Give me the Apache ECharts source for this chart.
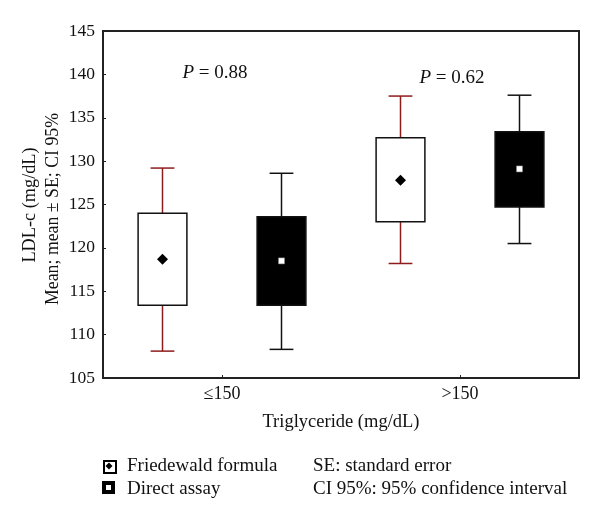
<!DOCTYPE html>
<html>
<head>
<meta charset="utf-8">
<script src="https://cdn.jsdelivr.net/npm/echarts@6/dist/echarts.min.js"></script>
<style>html,body{margin:0;padding:0;background:#fff;}#c{width:600px;height:522px;}</style>
</head>
<body>
<div id="c"></div>
<script>
const categories = ['≤150', '>150'];
// [CI95 low, mean - SE, mean, mean + SE, CI95 high]
const friedewald = [
  [108.1, 113.4, 118.7, 124.0, 129.2],
  [118.2, 123.0, 127.8, 132.7, 137.5]
];
const direct = [
  [108.3, 113.4, 118.5, 123.6, 128.6],
  [120.5, 124.7, 129.1, 133.4, 137.6]
];
const pValues = ['0.88', '0.62'];
const yTicks = { min: 105, max: 145, step: 5 };

const FONT = '"Liberation Serif", "DejaVu Serif", serif';
const WHISKER_RED = '#8e1c1c';

function makeRender(offset, filled, whiskerColor) {
  return function (params, api) {
    const xi = api.value(0);
    const band = api.size([1, 0])[0];
    const pLo = api.coord([xi, api.value(1)]);
    const pSeLo = api.coord([xi, api.value(2)]);
    const pMean = api.coord([xi, api.value(3)]);
    const pSeHi = api.coord([xi, api.value(4)]);
    const pHi = api.coord([xi, api.value(5)]);
    const cx = pLo[0] + offset * band;
    const bw = band * 0.205;
    const cw = band * 0.1;
    const lineStyle = { stroke: whiskerColor, lineWidth: 1.5 };
    const children = [
      { type: 'line', shape: { x1: cx, y1: pHi[1], x2: cx, y2: pSeHi[1] }, style: lineStyle },
      { type: 'line', shape: { x1: cx, y1: pSeLo[1], x2: cx, y2: pLo[1] }, style: lineStyle },
      { type: 'line', shape: { x1: cx - cw / 2, y1: pHi[1], x2: cx + cw / 2, y2: pHi[1] }, style: lineStyle },
      { type: 'line', shape: { x1: cx - cw / 2, y1: pLo[1], x2: cx + cw / 2, y2: pLo[1] }, style: lineStyle },
      { type: 'rect', shape: { x: cx - bw / 2, y: pSeHi[1], width: bw, height: pSeLo[1] - pSeHi[1] },
        style: { fill: filled ? '#000' : '#fff', stroke: '#111', lineWidth: 1.5 } }
    ];
    if (filled) {
      children.push({ type: 'rect', shape: { x: cx - 3, y: pMean[1] - 3, width: 6, height: 6 },
        style: { fill: '#fff', stroke: '#888', lineWidth: 0.5 } });
    } else {
      children.push({ type: 'polygon', shape: { points: [[cx, pMean[1] - 5.5], [cx + 5.5, pMean[1]], [cx, pMean[1] + 5.5], [cx - 5.5, pMean[1]]] },
        style: { fill: '#000' } });
    }
    return { type: 'group', children: children };
  };
}

const chart = echarts.init(document.getElementById('c'), null, { renderer: 'canvas' });

const LEG_FONT = '19px ' + FONT;
const legendGraphics = [
  { type: 'rect', left: 103, top: 460, shape: { width: 12, height: 12 }, style: { fill: '#fff', stroke: '#000', lineWidth: 2 } },
  { type: 'polygon', shape: { points: [[109, 462.5], [112.5, 466], [109, 469.5], [105.5, 466]] }, style: { fill: '#000' } },
  { type: 'text', x: 127, y: 466, style: { text: 'Friedewald formula', font: LEG_FONT, fill: '#111', verticalAlign: 'middle' } },
  { type: 'rect', left: 102, top: 481, shape: { width: 13, height: 13 }, style: { fill: '#000' } },
  { type: 'rect', left: 106, top: 485, shape: { width: 5, height: 5 }, style: { fill: '#fff' } },
  { type: 'text', x: 127, y: 489, style: { text: 'Direct assay', font: LEG_FONT, fill: '#111', verticalAlign: 'middle' } },
  { type: 'text', x: 313, y: 466, style: { text: 'SE: standard error', font: LEG_FONT, fill: '#111', verticalAlign: 'middle' } },
  { type: 'text', x: 313, y: 489, style: { text: 'CI 95%: 95% confidence interval', font: LEG_FONT, fill: '#111', verticalAlign: 'middle' } }
];

const option = {
  backgroundColor: '#fff',
  animation: false,
  grid: { left: 103, right: 21, top: 31, bottom: 144, show: true, borderColor: '#222', borderWidth: 2, backgroundColor: 'transparent' },
  xAxis: {
    type: 'category',
    data: categories,
    boundaryGap: true,
    axisLine: { show: true, lineStyle: { color: '#222', width: 2 } },
    axisTick: { show: true, inside: true, alignWithLabel: true, length: 3, lineStyle: { color: '#222' } },
    axisLabel: { fontFamily: FONT, fontSize: 18, color: '#111', margin: 7 },
    name: 'Triglyceride (mg/dL)',
    nameLocation: 'middle',
    nameGap: 35,
    nameTextStyle: { fontFamily: FONT, fontSize: 18.5, color: '#111' },
    splitLine: { show: false }
  },
  yAxis: {
    type: 'value',
    min: yTicks.min,
    max: yTicks.max,
    interval: yTicks.step,
    axisLine: { show: true, lineStyle: { color: '#222', width: 2 } },
    axisTick: { show: true, inside: true, length: 3, lineStyle: { color: '#222' } },
    axisLabel: { fontFamily: FONT, fontSize: 17.5, color: '#111', margin: 8 },
    splitLine: { show: false }
  },
  graphic: [
    { type: 'text', x: 30, y: 205, rotation: Math.PI / 2, style: { text: 'LDL-c (mg/dL)', font: '18.3px ' + FONT, fill: '#111', align: 'center', verticalAlign: 'middle' } },
    { type: 'text', x: 53, y: 209, rotation: Math.PI / 2, style: { text: 'Mean; mean ± SE; CI 95%', font: '17.8px ' + FONT, fill: '#111', align: 'center', verticalAlign: 'middle' } },
    { type: 'text', x: 215, y: 73, style: { text: '{i|P} = ' + pValues[0], font: '19px ' + FONT, fill: '#111', align: 'center', verticalAlign: 'middle',
        rich: { i: { fontStyle: 'italic', fontFamily: FONT, fontSize: 19 } } } },
    { type: 'text', x: 452, y: 78, style: { text: '{i|P} = ' + pValues[1], font: '19px ' + FONT, fill: '#111', align: 'center', verticalAlign: 'middle',
        rich: { i: { fontStyle: 'italic', fontFamily: FONT, fontSize: 19 } } } }
  ].concat(legendGraphics),
  series: [
    {
      name: 'Friedewald formula',
      type: 'custom',
      renderItem: makeRender(-0.25, false, WHISKER_RED),
      encode: { x: 0, y: [1, 2, 3, 4, 5] },
      data: friedewald.map((d, i) => [i].concat(d)),
      z: 5
    },
    {
      name: 'Direct assay',
      type: 'custom',
      renderItem: makeRender(0.25, true, '#111'),
      encode: { x: 0, y: [1, 2, 3, 4, 5] },
      data: direct.map((d, i) => [i].concat(d)),
      z: 5
    }
  ]
};
chart.setOption(option);
</script>
</body>
</html>
